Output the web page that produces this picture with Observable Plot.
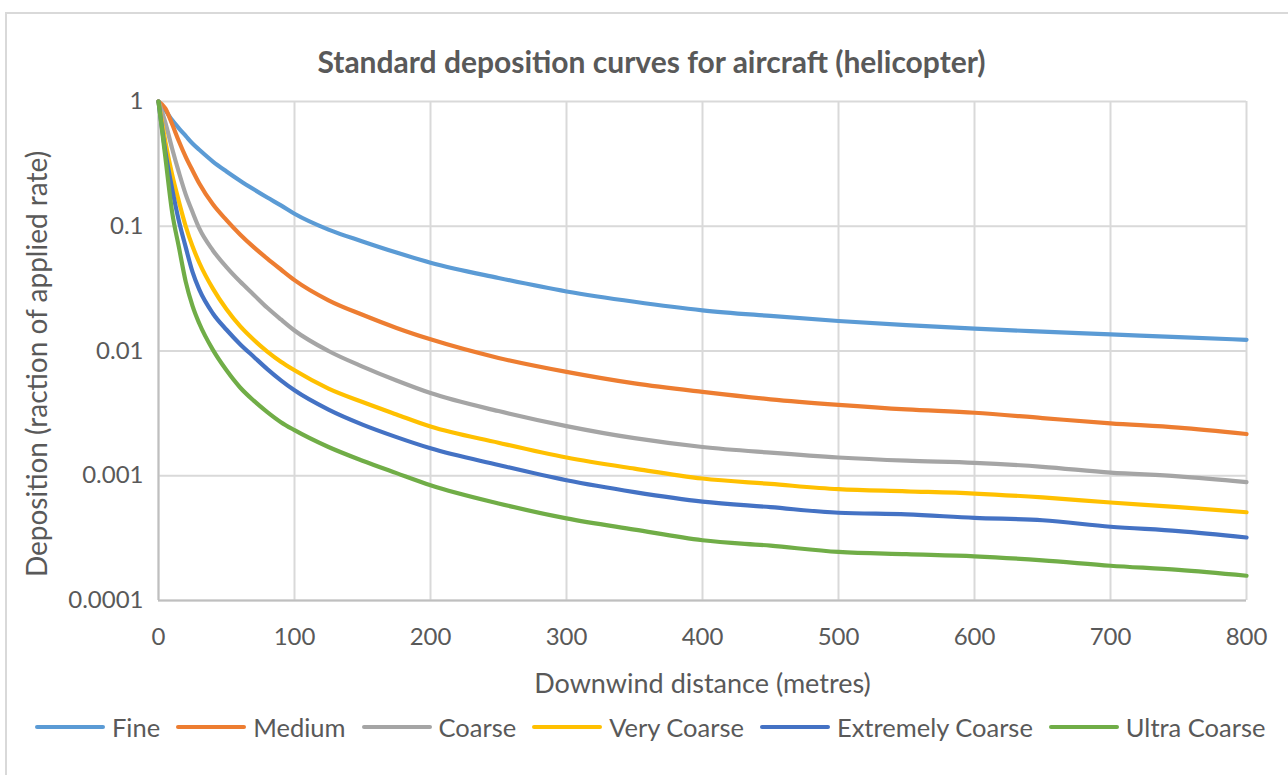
<!DOCTYPE html>
<html>
<head>
<meta charset="utf-8">
<script src="https://cdn.jsdelivr.net/npm/d3@7"></script>
<script src="https://cdn.jsdelivr.net/npm/@observablehq/plot@0.6"></script>
<style>
  html, body { margin: 0; padding: 0; background: #fff; }
  #wrap { position: relative; width: 1288px; height: 775px; overflow: hidden; font-family: Lato, "Open Sans", sans-serif; color: #595959; }
  #frame { position: absolute; left: 5px; top: 12px; width: 1320px; height: 800px; border: 2px solid #d9d9d9; box-sizing: border-box; }
  #title { position: absolute; top: 43px; left: 0; width: 1303px; text-align: center; font-size: 30px; font-weight: bold; line-height: 36px; }
  #chart { position: absolute; left: 0; top: 0; }
  #legend { position: absolute; top: 709px; left: 35px; display: flex; align-items: center; white-space: nowrap; font-size: 25.5px; line-height: 36px; }
  .item { display: flex; align-items: center; margin-right: 16px; }
  .sw { width: 70px; height: 4px; margin-right: 7px; border-radius: 2px; }
</style>
</head>
<body>
<div id="wrap">
  <div id="frame"></div>
  <div id="title">Standard deposition curves for aircraft (helicopter)</div>
  <div id="chart"></div>
  <div id="legend"></div>
</div>
<script>
const distance = [0, 5, 10, 15, 20, 25, 30, 40, 50, 60, 70, 80, 90, 100, 125, 150, 175, 200, 250, 300, 350, 400, 450, 500, 550, 600, 650, 700, 750, 800];
const fine = [1, 0.85, 0.71, 0.61, 0.53, 0.46, 0.41, 0.33, 0.275, 0.232, 0.198, 0.170, 0.147, 0.126, 0.094, 0.0755, 0.0615, 0.051, 0.0385, 0.030, 0.0248, 0.0212, 0.0191, 0.0174, 0.0161, 0.0151, 0.0143, 0.0136, 0.0129, 0.0123];
const medium = [1, 0.88, 0.66, 0.48, 0.36, 0.28, 0.22, 0.15, 0.112, 0.086, 0.068, 0.055, 0.045, 0.037, 0.0255, 0.0195, 0.0153, 0.0124, 0.0088, 0.0068, 0.0055, 0.0047, 0.0041, 0.0037, 0.0034, 0.0032, 0.0029, 0.00263, 0.00243, 0.00216];
const coarse = [1, 0.68, 0.42, 0.27, 0.18, 0.13, 0.096, 0.064, 0.047, 0.036, 0.0283, 0.0222, 0.0179, 0.0146, 0.0100, 0.0075, 0.0058, 0.0046, 0.0033, 0.0025, 0.0020, 0.0017, 0.00153, 0.0014, 0.00132, 0.00127, 0.00118, 0.00106, 0.00099, 0.00089];
const veryCoarse = [1, 0.48, 0.26, 0.158, 0.10, 0.069, 0.051, 0.0316, 0.0216, 0.0158, 0.0123, 0.0099, 0.0082, 0.0070, 0.0050, 0.0039, 0.0031, 0.00248, 0.00184, 0.0014, 0.00114, 0.00095, 0.00086, 0.00078, 0.00075, 0.00072, 0.00067, 0.00061, 0.00056, 0.00051];
const extremelyCoarse = [1, 0.40, 0.20, 0.11, 0.068, 0.043, 0.031, 0.020, 0.0148, 0.01135, 0.0090, 0.00716, 0.00582, 0.00484, 0.00339, 0.00257, 0.00204, 0.00166, 0.00122, 0.00092, 0.00074, 0.00062, 0.00056, 0.000505, 0.00049, 0.00046, 0.00044, 0.00039, 0.00036, 0.00032];
const ultraCoarse = [1, 0.36, 0.13, 0.068, 0.036, 0.023, 0.0166, 0.0102, 0.0070, 0.0051, 0.0040, 0.00324, 0.00269, 0.00232, 0.0017, 0.00132, 0.00105, 0.00084, 0.0006, 0.000455, 0.00037, 0.000304, 0.000275, 0.000245, 0.000235, 0.000226, 0.00021, 0.00019, 0.000176, 0.000158];

const seriesNames = ["Fine", "Medium", "Coarse", "Very Coarse", "Extremely Coarse", "Ultra Coarse"];
const seriesValues = [fine, medium, coarse, veryCoarse, extremelyCoarse, ultraCoarse];
const seriesColors = ["#5B9BD5", "#ED7D31", "#A5A5A5", "#FFC000", "#4472C4", "#70AD47"];
const xTicks = [0, 100, 200, 300, 400, 500, 600, 700, 800];
const yTicks = [1, 0.1, 0.01, 0.001, 0.0001];

const rows = [];
seriesNames.forEach((name, i) => {
  distance.forEach((d, j) => rows.push({series: name, distance: d, value: seriesValues[i][j]}));
});

const chart = Plot.plot({
  width: 1288,
  height: 700,
  marginTop: 101,
  marginBottom: 100,
  marginLeft: 158,
  marginRight: 42,
  style: {fontFamily: "Lato, 'Open Sans', sans-serif", fontSize: "24px", color: "#595959", background: "transparent"},
  x: {domain: [0, 800], ticks: xTicks},
  y: {type: "log", domain: [0.0001, 1], ticks: yTicks},
  color: {domain: seriesNames, range: seriesColors},
  marks: [
    Plot.ruleY(yTicks, {stroke: "#d9d9d9", strokeWidth: 2}),
    Plot.ruleX(xTicks, {stroke: "#d9d9d9", strokeWidth: 2}),
    Plot.ruleY([0.0001], {stroke: "#bfbfbf", strokeWidth: 2}),
    Plot.ruleX([0], {stroke: "#bfbfbf", strokeWidth: 2}),
    Plot.axisX({ticks: xTicks, tickSize: 0, tickPadding: 27, label: null}),
    Plot.axisY({ticks: yTicks, tickSize: 0, tickPadding: 15, label: null, tickFormat: d => String(d)}),
    Plot.line(rows, {x: "distance", y: "value", z: "series", stroke: "series", strokeWidth: 4.2, curve: "monotone-x"}),
    Plot.text(["Downwind distance (metres)"], {frameAnchor: "bottom", dy: 92, fontSize: 27}),
    Plot.text(["Deposition (raction of applied rate)"], {frameAnchor: "left", textAnchor: "middle", rotate: -90, dx: -120, dy: 13, fontSize: 28})
  ]
});
document.getElementById("chart").appendChild(chart);

const legend = document.getElementById("legend");
seriesNames.forEach((name, i) => {
  const item = document.createElement("div");
  item.className = "item";
  const sw = document.createElement("div");
  sw.className = "sw";
  sw.style.background = seriesColors[i];
  const label = document.createElement("span");
  label.textContent = name;
  item.appendChild(sw);
  item.appendChild(label);
  legend.appendChild(item);
});
</script>
</body>
</html>
